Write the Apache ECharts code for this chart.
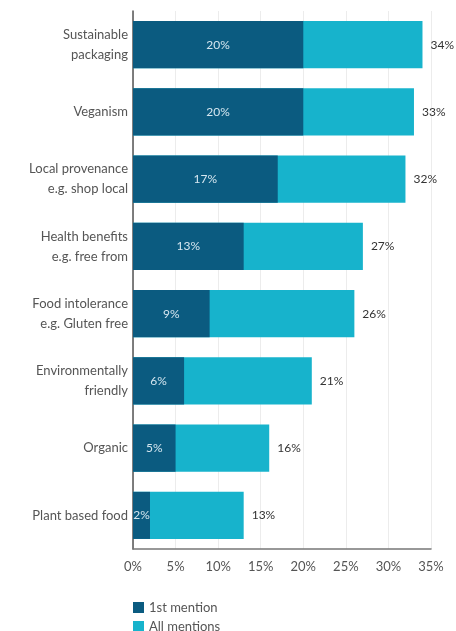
<!DOCTYPE html>
<html>
<head>
<meta charset="utf-8">
<script src="https://cdn.jsdelivr.net/npm/echarts@6/dist/echarts.min.js"></script>
<style>
  html, body { margin: 0; padding: 0; background: #fff; }
  #chart { width: 456px; height: 631px; }
</style>
</head>
<body>
<div id="chart"></div>
<script>
// categories, top to bottom
const categories = [
    'Sustainable\npackaging',
    'Veganism',
    'Local provenance\ne.g. shop local',
    'Health benefits\ne.g. free from',
    'Food intolerance\ne.g. Gluten free',
    'Environmentally\nfriendly',
    'Organic',
    'Plant based food'
];
const firstMention = [20, 20, 17, 13, 9, 6, 5, 2];
const allMentions = [34, 33, 32, 27, 26, 21, 16, 13];
const xTicks = [0, 5, 10, 15, 20, 25, 30, 35];

const COLORS = {
    DARK: '#0b5b80',
    LIGHT: '#17b3cc',
    TEXT: '#555555'
};
const FONT = 'Lato, "Open Sans", sans-serif';

// one legend per row, stacked under the axis
const legendRow = (name, top) => ({
    data: [name],
    left: 128,
    top: top,
    itemWidth: 11,
    itemHeight: 11,
    icon: 'rect',
    textStyle: { fontSize: 13, color: COLORS.TEXT, fontFamily: FONT }
});

const chart = echarts.init(document.getElementById('chart'));

chart.setOption({
    animation: false,
    textStyle: { fontFamily: FONT },
    grid: { left: 133, right: 25, top: 11, bottom: 82, containLabel: false },
    legend: [
        legendRow('1st mention', 596),
        legendRow('All mentions', 615)
    ],
    xAxis: {
        type: 'value',
        min: xTicks[0],
        max: xTicks[xTicks.length - 1],
        interval: 5,
        axisLine: { show: true, lineStyle: { color: '#777', width: 1.5 } },
        axisTick: { show: false },
        axisLabel: { formatter: '{value}%', fontSize: 13, color: COLORS.TEXT, margin: 11 },
        splitLine: { show: true, lineStyle: { color: '#ececec' } }
    },
    yAxis: {
        type: 'category',
        data: categories,
        inverse: true,
        axisLine: { show: true, lineStyle: { color: '#555', width: 1.5 } },
        axisTick: { show: false },
        axisLabel: {
            fontSize: 13,
            color: COLORS.TEXT,
            lineHeight: 20,
            margin: 5,
            align: 'right'
        }
    },
    series: [
        {
            name: 'All mentions',
            type: 'bar',
            data: allMentions,
            barCategoryGap: '30%',
            barGap: '-100%',
            itemStyle: { color: COLORS.LIGHT },
            label: {
                show: true,
                position: 'right',
                distance: 8,
                formatter: '{c}%',
                fontSize: 12,
                color: '#333'
            },
            z: 1
        },
        {
            name: '1st mention',
            type: 'bar',
            data: firstMention,
            barCategoryGap: '30%',
            barGap: '-100%',
            itemStyle: { color: COLORS.DARK },
            label: {
                show: true,
                position: 'inside',
                formatter: '{c}%',
                fontSize: 12,
                color: '#d5e6ef'
            },
            z: 2
        }
    ]
});
</script>
</body>
</html>
